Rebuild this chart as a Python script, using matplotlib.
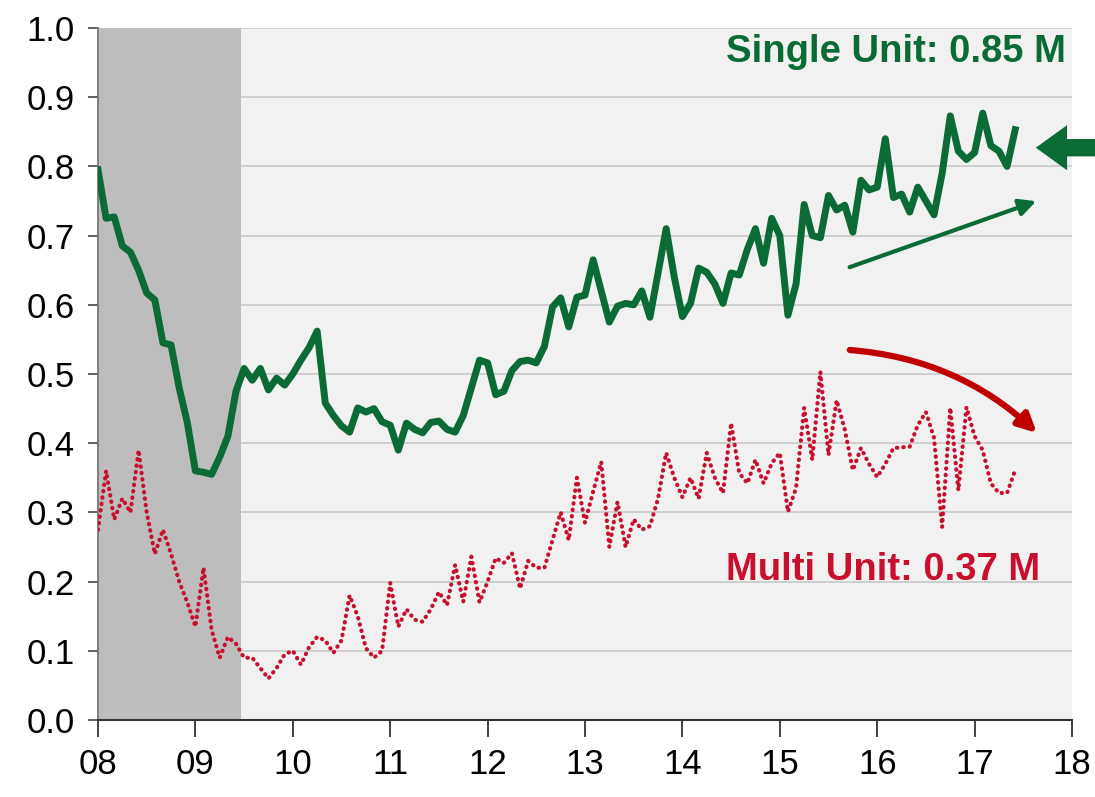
import numpy as np
import matplotlib
matplotlib.use('Agg')
import matplotlib.pyplot as plt

# monthly housing starts, millions (SAAR), Jan 2008 - Jun 2017
single_unit = [
    0.795, 0.725, 0.727, 0.685, 0.676, 0.650, 0.617, 0.607, 0.545, 0.542, 0.480, 0.430,
    0.360, 0.358, 0.355, 0.380, 0.410, 0.475, 0.508, 0.491, 0.508, 0.477, 0.494, 0.484,
    0.500, 0.520, 0.538, 0.562, 0.458, 0.440, 0.425, 0.416, 0.451, 0.445, 0.450, 0.431,
    0.426, 0.390, 0.429, 0.420, 0.415, 0.430, 0.432, 0.420, 0.416, 0.440, 0.480, 0.520,
    0.516, 0.470, 0.475, 0.505, 0.518, 0.520, 0.516, 0.540, 0.597, 0.610, 0.568, 0.611,
    0.614, 0.665, 0.620, 0.575, 0.598, 0.602, 0.600, 0.620, 0.582, 0.646, 0.710, 0.640,
    0.583, 0.602, 0.653, 0.647, 0.630, 0.602, 0.646, 0.643, 0.680, 0.710, 0.660, 0.725,
    0.700, 0.585, 0.630, 0.745, 0.700, 0.697, 0.758, 0.737, 0.744, 0.705, 0.780, 0.766,
    0.770, 0.840, 0.755, 0.760, 0.734, 0.770, 0.750, 0.730, 0.790, 0.873, 0.822, 0.810,
    0.820, 0.877, 0.830, 0.822, 0.800, 0.853,
]
multi_unit = [
    0.275, 0.360, 0.290, 0.320, 0.300, 0.390, 0.300, 0.240, 0.275, 0.240, 0.200, 0.170,
    0.135, 0.220, 0.130, 0.090, 0.120, 0.110, 0.090, 0.090, 0.075, 0.060, 0.075, 0.095,
    0.100, 0.080, 0.105, 0.120, 0.115, 0.097, 0.115, 0.180, 0.150, 0.104, 0.090, 0.100,
    0.198, 0.135, 0.160, 0.145, 0.142, 0.160, 0.185, 0.166, 0.224, 0.171, 0.236, 0.170,
    0.200, 0.234, 0.227, 0.241, 0.190, 0.230, 0.220, 0.220, 0.260, 0.300, 0.260, 0.350,
    0.285, 0.330, 0.373, 0.250, 0.315, 0.250, 0.290, 0.275, 0.280, 0.320, 0.386, 0.350,
    0.322, 0.350, 0.320, 0.386, 0.350, 0.328, 0.429, 0.357, 0.342, 0.376, 0.342, 0.371,
    0.386, 0.301, 0.335, 0.451, 0.376, 0.503, 0.383, 0.462, 0.420, 0.361, 0.393, 0.370,
    0.351, 0.370, 0.393, 0.394, 0.395, 0.426, 0.445, 0.408, 0.279, 0.451, 0.332, 0.452,
    0.410, 0.390, 0.342, 0.328, 0.328, 0.361,
]
start_year = 2008
recession = (2008.0, 2009.47)
year_ticks = list(range(2008, 2019))
year_labels = ['08', '09', '10', '11', '12', '13', '14', '15', '16', '17', '18']
y_ticks = [0.0, 0.1, 0.2, 0.3, 0.4, 0.5, 0.6, 0.7, 0.8, 0.9, 1.0]

months = start_year + np.arange(len(single_unit)) / 12

green = '#0b6b36'
red = '#c8102e'

plt.rcParams['font.family'] = ['Liberation Sans', 'DejaVu Sans']

fig = plt.figure(figsize=(10.95, 7.97), dpi=100)
ax = fig.add_axes([98 / 1095, 77 / 797, (1072 - 98) / 1095, (720 - 28) / 797])
ax.set_facecolor('#f1f1f1')

ax.axvspan(*recession, color='#bdbdbd', zorder=1, lw=0)
for y in y_ticks[1:]:
    ax.axhline(y, color='#c9c9c9', lw=1.2, zorder=0.5)

ax.plot(months, single_unit, color=green, lw=5, solid_joinstyle='round', zorder=3)
ax.plot(months, multi_unit, color=red, lw=3, dashes=(0.1, 1.45),
        dash_capstyle='round', zorder=3)

ax.set_xlim(2008, 2018)
ax.set_ylim(0, 1.0)
ax.set_xticks(year_ticks)
ax.set_xticklabels(year_labels, fontsize=25)
ax.set_yticks(y_ticks)
ax.set_yticklabels([f'{v:.1f}' for v in y_ticks], fontsize=25)
ax.tick_params(axis='x', direction='out', length=12, width=1.3, color='#333333', pad=8)
ax.tick_params(axis='y', direction='out', length=7, width=1.3, color='#555555', pad=10)

for s in ['top', 'right']:
    ax.spines[s].set_visible(False)
ax.spines['bottom'].set_color('#333333')
ax.spines['bottom'].set_linewidth(1.5)
ax.spines['left'].set_color('#777777')
ax.spines['left'].set_linewidth(1.3)

ax.text(2014.45, 0.965, 'Single Unit: 0.85 M', color=green, fontsize=27.5,
        fontweight='bold', ha='left', va='center')
ax.text(2014.45, 0.217, 'Multi Unit: 0.37 M', color=red, fontsize=27.5,
        fontweight='bold', ha='left', va='center')

# trend arrows
ax.annotate('', xy=(2017.66, 0.751), xytext=(2015.69, 0.653),
            arrowprops=dict(arrowstyle='-|>,head_length=1.0,head_width=0.5',
                            color=green, lw=3), zorder=4)
ax.annotate('', xy=(2017.66, 0.412), xytext=(2015.69, 0.535),
            arrowprops=dict(arrowstyle='-|>,head_length=1.1,head_width=0.55',
                            connectionstyle='arc3,rad=-0.18',
                            color='#c00000', lw=4.5), zorder=4)
ax.annotate('', xy=(2017.6, 0.827), xytext=(2018.5, 0.827),
            arrowprops=dict(arrowstyle='simple,head_length=0.9,head_width=1.3,tail_width=0.5',
                            color=green, lw=0, mutation_scale=25),
            annotation_clip=False, zorder=4)

fig.savefig('out.png', dpi=100, facecolor='white')
